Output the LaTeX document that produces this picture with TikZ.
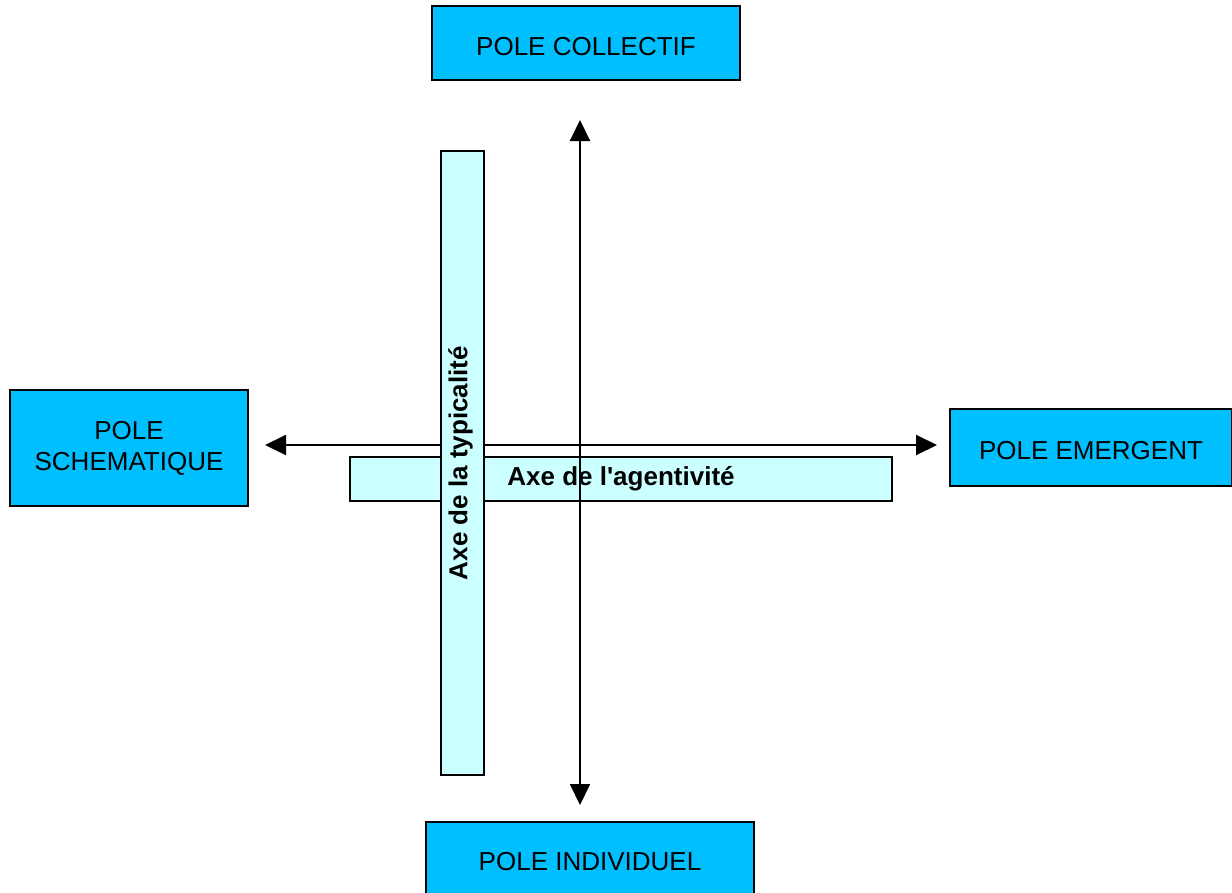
\documentclass[tikz,border=0pt]{standalone}
\usepackage{fontspec}
\setmainfont{Liberation Sans}
\usetikzlibrary{arrows.meta}
\definecolor{polecol}{HTML}{00BFFF}
\definecolor{barcol}{HTML}{CCFFFF}
\tikzset{
  pole/.style={draw=black, line width=2pt, fill=polecol, inner sep=0pt, align=center, font=\fontsize{26}{31}\selectfont},
  poletext/.style={inner sep=0pt, align=center, font=\fontsize{26}{31}\selectfont},
  axebar/.style={draw=black, line width=1.6pt, fill=barcol, inner sep=0pt, font=\bfseries\fontsize{26}{31}\selectfont},
  axis/.style={line width=2pt, {Triangle[length=21pt,width=20pt]}-{Triangle[length=21pt,width=20pt]}}
}
\begin{document}
\begin{tikzpicture}[x=1pt,y=-1pt]
\useasboundingbox (0,0) rectangle (1232,892);
\clip (0,0) rectangle (1232,892);
% poles
\node[pole, minimum width=308pt, minimum height=74pt] (coll) at (586,43) {};
\node[poletext] (colltxt) at (586,47) {POLE COLLECTIF};
\node[pole, minimum width=238pt, minimum height=116pt] (schem) at (129,448) {POLE\\SCHEMATIQUE};
\node[pole, minimum width=282pt, minimum height=77pt] (emerg) at (1091,447.5) {};
\node[poletext] (emergtxt) at (1091,451) {POLE EMERGENT};
\node[pole, minimum width=328pt, minimum height=90pt, anchor=north] (indiv) at (590,821) {};
\node[poletext] (indivtxt) at (590,862) {POLE INDIVIDUEL};
% horizontal axis
\coordinate (hl) at (265,445);
\coordinate (hr) at (937,445);
\draw[axis] (hl) -- (hr);
% bars
\node[axebar, minimum width=542pt, minimum height=44pt] (hbar) at (621,479) {Axe de l\textquotesingle agentivité};
\node[axebar, minimum width=43pt, minimum height=624pt] (vbar) at (462.5,463) {};
\node[font=\bfseries\fontsize{26}{31}\selectfont, rotate=90] (vtxt) at (460.5,463) {Axe de la typicalité};
% vertical axis
\coordinate (vt) at (580,120);
\coordinate (vb) at (580,805);
\draw[axis] (vt) -- (vb);
\end{tikzpicture}
\end{document}
